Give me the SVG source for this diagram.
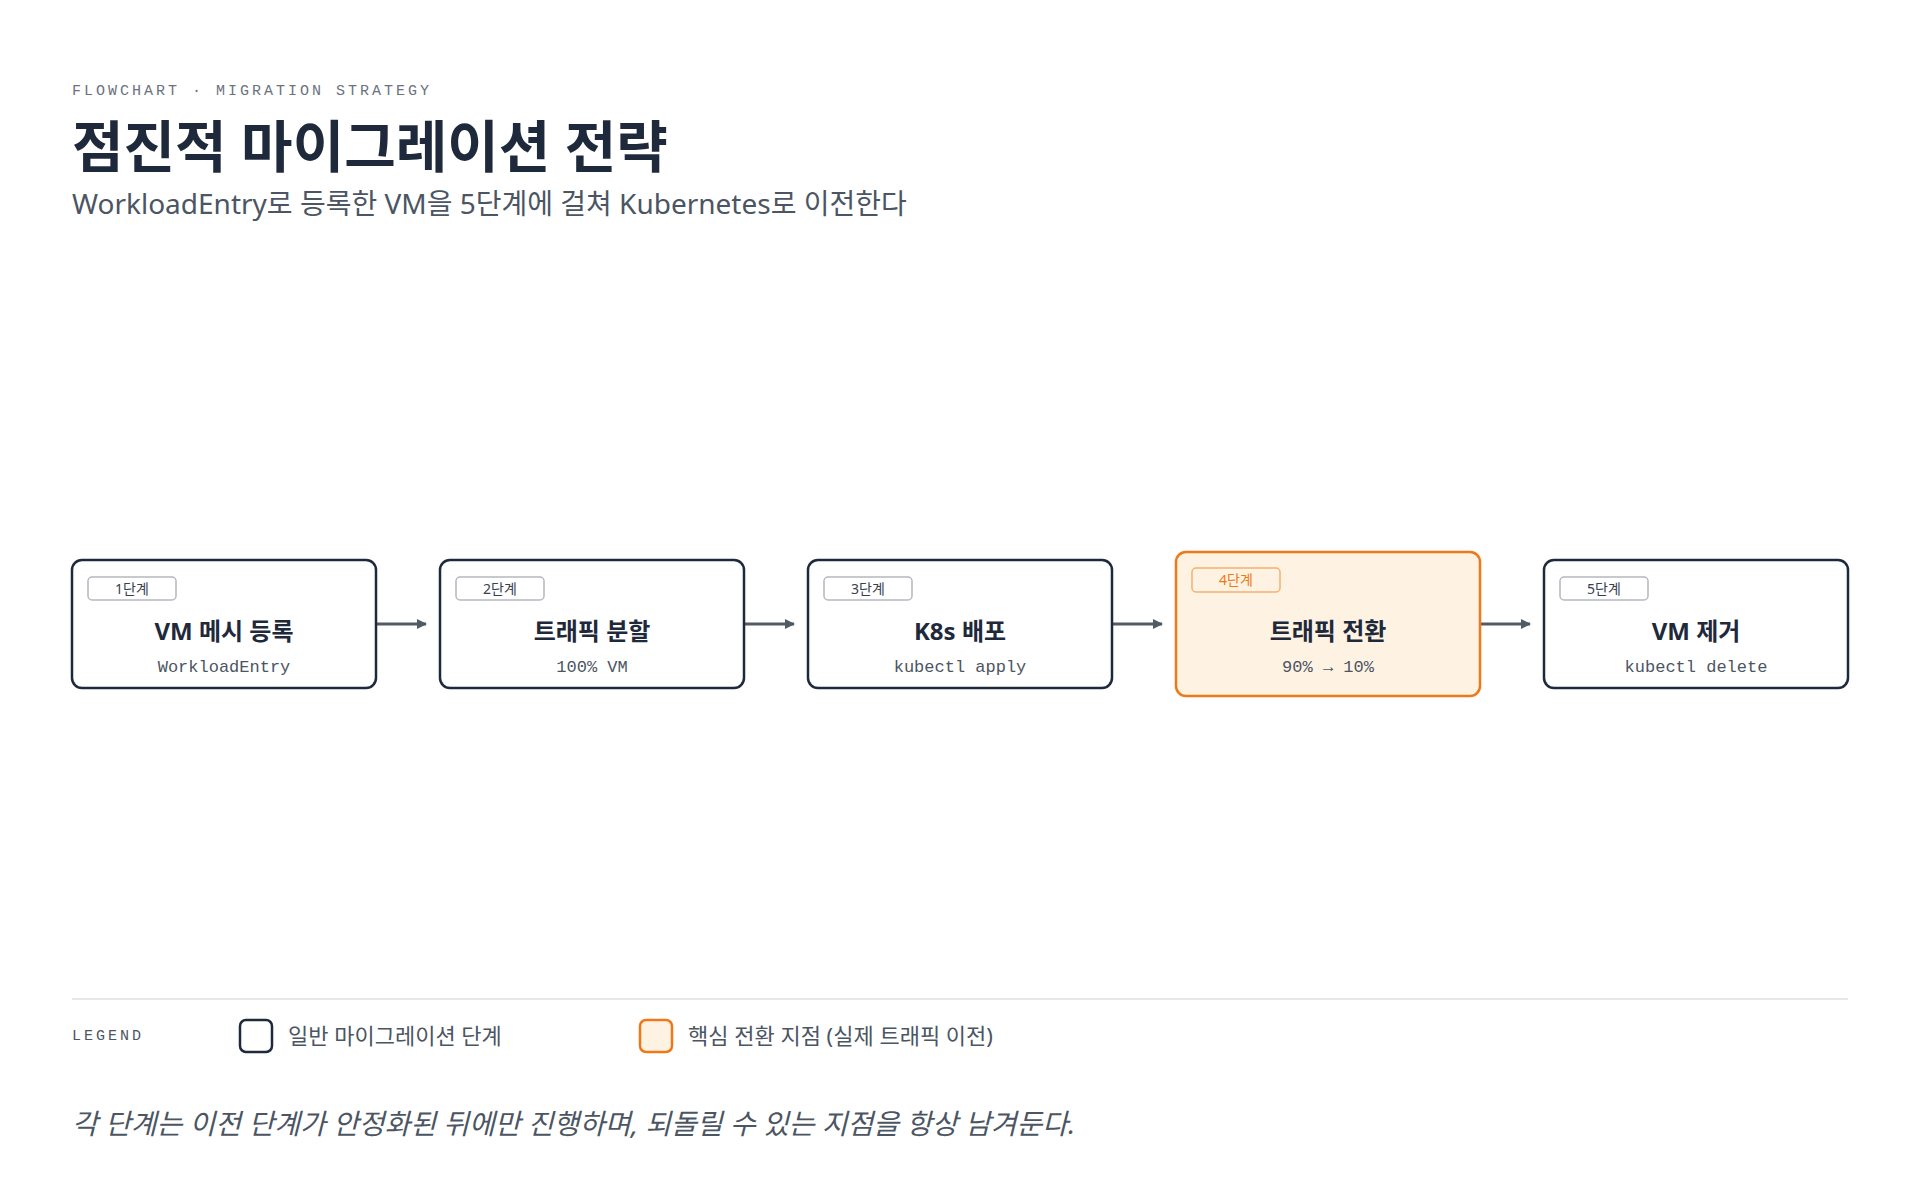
<svg xmlns="http://www.w3.org/2000/svg" width="1920" height="1200" viewBox="0 0 1920 1200">
<defs>
<style>
.sans{font-family:"Noto Sans","Noto Sans CJK KR",sans-serif}
.mono{font-family:"Liberation Mono","DejaVu Sans Mono","Noto Sans CJK KR",monospace}
.node{fill:#fff;stroke:#1e293b;stroke-width:2.5}
.hot{fill:#fef3e2;stroke:#f07818;stroke-width:2.5}
.badge{fill:#fff;stroke:#b4b8be;stroke-width:1.5}
.hbadge{fill:#fef3e2;stroke:#f5b070;stroke-width:1.5}
.bt{font-size:14px;fill:#374151;text-anchor:middle}
.t{font-size:24px;font-weight:700;fill:#1e293b;text-anchor:middle}
.s{font-size:17px;fill:#4b5563;text-anchor:middle}
.edge{stroke:#525a66;stroke-width:3;fill:none}
</style>
<marker id="ah" markerWidth="10" markerHeight="10" refX="9" refY="5" orient="auto" markerUnits="userSpaceOnUse" viewBox="0 0 10 10"><path d="M0,0 L10,5 L0,10 Z" fill="#525a66"/></marker>
</defs>
<rect width="1920" height="1200" fill="#fff"/>
<text x="72" y="95" class="mono" font-size="15" fill="#6b7280" letter-spacing="3">FLOWCHART · MIGRATION STRATEGY</text>
<text x="72" y="167" class="sans" font-size="56" font-weight="700" fill="#1e293b">점진적 마이그레이션 전략</text>
<text x="72" y="214" class="sans" font-size="28" fill="#4b5563">WorkloadEntry로 등록한 VM을 5단계에 걸쳐 Kubernetes로 이전한다</text>
<g id="connectors">
<line class="edge" x1="376" y1="624" x2="426" y2="624" marker-end="url(#ah)"/>
<line class="edge" x1="744" y1="624" x2="794" y2="624" marker-end="url(#ah)"/>
<line class="edge" x1="1112" y1="624" x2="1162" y2="624" marker-end="url(#ah)"/>
<line class="edge" x1="1480" y1="624" x2="1530" y2="624" marker-end="url(#ah)"/>
</g>
<g id="n1"><rect class="node" x="72" y="560" width="304" height="128" rx="10"/><rect class="badge" x="88" y="577" width="88" height="23" rx="4"/><text class="sans bt" x="132" y="594">1단계</text><text class="sans t" x="224" y="640">VM 메시 등록</text><text class="mono s" x="224" y="672">WorkloadEntry</text></g>
<g id="n2"><rect class="node" x="440" y="560" width="304" height="128" rx="10"/><rect class="badge" x="456" y="577" width="88" height="23" rx="4"/><text class="sans bt" x="500" y="594">2단계</text><text class="sans t" x="592" y="640">트래픽 분할</text><text class="mono s" x="592" y="672">100% VM</text></g>
<g id="n3"><rect class="node" x="808" y="560" width="304" height="128" rx="10"/><rect class="badge" x="824" y="577" width="88" height="23" rx="4"/><text class="sans bt" x="868" y="594">3단계</text><text class="sans t" x="960" y="640">K8s 배포</text><text class="mono s" x="960" y="672">kubectl apply</text></g>
<g id="n4"><rect class="hot" x="1176" y="552" width="304" height="144" rx="10"/><rect class="hbadge" x="1192" y="568" width="88" height="24" rx="4"/><text class="sans bt" x="1236" y="585" style="fill:#f07818">4단계</text><text class="sans t" x="1328" y="640">트래픽 전환</text><text class="mono s" x="1328" y="672">90% → 10%</text></g>
<g id="n5"><rect class="node" x="1544" y="560" width="304" height="128" rx="10"/><rect class="badge" x="1560" y="577" width="88" height="23" rx="4"/><text class="sans bt" x="1604" y="594">5단계</text><text class="sans t" x="1696" y="640">VM 제거</text><text class="mono s" x="1696" y="672">kubectl delete</text></g>
<line x1="72" y1="999" x2="1848" y2="999" stroke="#e5e7eb" stroke-width="2"/>
<g id="legend">
<text x="72" y="1040" class="mono" font-size="15" fill="#4b5563" letter-spacing="3">LEGEND</text>
<rect x="240" y="1020" width="32" height="32" rx="6" fill="#fff" stroke="#1e293b" stroke-width="2.5"/>
<text x="288" y="1044" class="sans" font-size="22" fill="#4b5563">일반 마이그레이션 단계</text>
<rect x="640" y="1020" width="32" height="32" rx="6" fill="#fef3e2" stroke="#f07818" stroke-width="2.5"/>
<text x="688" y="1044" class="sans" font-size="22" fill="#4b5563">핵심 전환 지점 (실제 트래픽 이전)</text>
</g>
<text x="72" y="1134" class="sans" font-size="28" font-style="italic" fill="#4b5563">각 단계는 이전 단계가 안정화된 뒤에만 진행하며, 되돌릴 수 있는 지점을 항상 남겨둔다.</text>
</svg>
